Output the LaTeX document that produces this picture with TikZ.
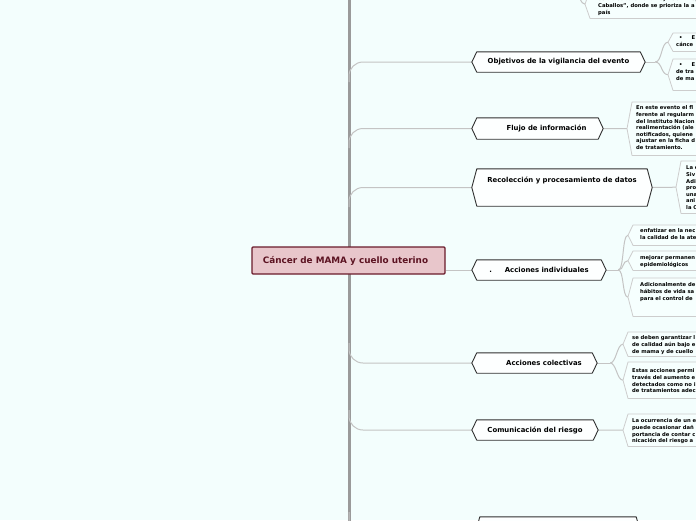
\documentclass[tikz,border=0pt]{standalone}
\usepackage{fontspec}
\setmainfont{DejaVu Sans}
\usetikzlibrary{calc}
\pgfdeclarelayer{canvas}
\pgfdeclarelayer{edges}
\pgfdeclarelayer{shapes}
\pgfsetlayers{canvas,edges,shapes,main}
\definecolor{bgc}{HTML}{F3FEFD}
\definecolor{trunkc}{HTML}{9A9A9A}
\definecolor{edgec}{HTML}{C4C4C4}
\definecolor{tagfill}{HTML}{FDFFFF}
\definecolor{tagline}{HTML}{303030}
\definecolor{kidfill}{HTML}{F6FFFE}
\definecolor{kidline}{HTML}{CDCDCD}
\definecolor{rootfill}{HTML}{E8C6CB}
\definecolor{rootline}{HTML}{6A1B2B}
\definecolor{roottext}{HTML}{5C1322}
\tikzset{
  tagnode/.style={rectangle, inner sep=0pt, font=\fontsize{6.9}{8}\selectfont\bfseries, text=black},
  tagshape/.style={fill=tagfill, draw=tagline, line width=0.9pt, line join=round},
  kidnode/.style={rectangle, anchor=north west, inner ysep=0pt, font=\fontsize{5.25}{6.6}\selectfont\bfseries, text=black},
  kidshape/.style={fill=kidfill, draw=kidline, line width=0.8pt, line join=round},
  trunkline/.style={draw=trunkc, line width=3pt},
  branch/.style={draw=edgec, line width=1pt},
  rootnode/.style={rectangle, draw=rootline, fill=rootfill, line width=1.2pt, rounded corners=1pt,
    minimum width=193pt, minimum height=27pt, inner sep=0pt,
    font=\fontsize{8.85}{11}\selectfont\bfseries, text=roottext}
}
\newcommand\kidtxt[3]{\parbox[c][#1][t]{170pt}{\vspace*{#2}\raggedright\strut #3}}
\newcommand\taghex[1]{%
  \begin{pgfonlayer}{shapes}
  \path[tagshape] (#1.west) -- ([xshift=5pt]#1.north west) -- ([xshift=-5pt]#1.north east) -- (#1.east)
     -- ([xshift=-5pt]#1.south east) -- ([xshift=5pt]#1.south west) -- cycle;
  \end{pgfonlayer}}
\newcommand\kidhex[1]{%
  \begin{pgfonlayer}{shapes}
  \path[kidshape] (#1.west) -- ([xshift=5pt]#1.north west) -- (#1.north east)
     -- (#1.south east) -- ([xshift=5pt]#1.south west) -- cycle;
  \end{pgfonlayer}}
\begin{document}
\begin{tikzpicture}[x=1pt,y=-1pt]
\useasboundingbox (0,0) rectangle (696,520);
\begin{pgfonlayer}{canvas}
\fill[bgc] (0,0) rectangle (696,520);
\end{pgfonlayer}

% root and topic nodes
\node[rootnode] (root) at (348.5,260.5) {\hspace*{-6pt}Cáncer de MAMA y cuello uterino};
\node[tagnode, minimum width=173pt, minimum height=20pt] (obj) at (558.5,62) {Objetivos de la vigilancia del evento};
\node[tagnode, minimum width=131pt, minimum height=21pt] (flujo) at (537.5,128.5) {\hspace*{18pt}Flujo de información};
\node[tagnode, minimum width=180pt, text height=13.5pt, text depth=23.5pt] (reco) at (562,187.5) {Recolección y procesamiento de datos};
\node[tagnode, minimum width=134pt, minimum height=20pt] (indiv) at (539,270) {.\hspace{13pt}Acciones individuales};
\node[tagnode, minimum width=125pt, minimum height=20pt] (colec) at (534.5,363) {\hspace*{19pt}Acciones colectivas};
\node[tagnode, minimum width=126pt, minimum height=20pt] (comun) at (535,430) {Comunicación del riesgo};
\node[tagnode, minimum width=166pt, minimum height=36pt] (bot) at (558,535) {};
\foreach \n in {obj,flujo,reco,indiv,colec,comun,bot} {\taghex{\n}}

% detail boxes
\node[kidnode, inner xsep=8pt] (o1) at (668,33) {\kidtxt{18pt}{2pt}{\hspace*{3pt}•\hspace{9pt}E\\cánce}};
\node[kidnode, inner xsep=8pt] (o2) at (668,59) {\kidtxt{31pt}{3pt}{\hspace*{3pt}•\hspace{9pt}E\\de tra\\de ma}};
\node[kidnode, inner xsep=9pt] (f1) at (627,102) {\kidtxt{53pt}{3pt}{En este evento el fl\\ferente al regularm\\del Instituto Nacion\\realimentación (ale\\notificados, quiene\\ajustar en la ficha d\\de tratamiento.}};
\node[kidnode, inner xsep=10pt] (r1) at (676,161) {\kidtxt{52pt}{4pt}{La c\\Siv\\Adi\\pro\\una\\ani\\la C}};
\node[kidnode, inner xsep=12pt] (i1) at (628,225) {\kidtxt{20pt}{3pt}{enfatizar en la nec\\la calidad de la ate}};
\node[kidnode, inner xsep=12pt] (i2) at (628,251) {\kidtxt{19pt}{4pt}{mejorar permanen\\epidemiológicos}};
\node[kidnode, inner xsep=12pt] (i3) at (628,278) {\kidtxt{38pt}{4pt}{Adicionalmente de\\hábitos de vida sa\\para el control de}};
\node[kidnode, inner xsep=9pt] (c1) at (623,332) {\kidtxt{24pt}{3pt}{se deben garantizar l\\de calidad aún bajo e\\de mama y de cuello}};
\node[kidnode, inner xsep=9pt] (c2) at (623,362) {\kidtxt{36pt}{6pt}{Estas acciones permi\\través del aumento e\\detectados como no i\\de tratamientos adec}};
\node[kidnode, inner xsep=9pt] (m1) at (623,414) {\kidtxt{32pt}{4pt}{La ocurrencia de un e\\puede ocasionar dañ\\portancia de contar c\\nicación del riesgo a}};
\node[kidnode, inner xsep=13pt] (tb) at (585,-10) {\kidtxt{28pt}{6pt}{establecida en una Ley 1384 "Ley S\\Caballos", donde se prioriza la a\\país}};
\foreach \n in {o1,o2,f1,r1,i1,i2,i3,c1,c2,m1,tb} {\kidhex{\n}}

% connectors
\coordinate (ttop) at (349,-20);
\coordinate (tbottom) at (349,545);
\coordinate (tobj) at (349,82);
\coordinate (tflu) at (349,148);
\coordinate (treco) at (349,207);
\coordinate (tcol) at (349,343);
\coordinate (tcom) at (349,410);
\coordinate (tbot) at (349,512);
\coordinate (tbp) at (568,-30);
\coordinate (objb) at ([xshift=10pt]obj.east);
\coordinate (indb) at ([xshift=12pt]indiv.east);
\coordinate (colb) at ([xshift=13pt]colec.east);
\begin{pgfonlayer}{edges}
\draw[trunkline] (ttop) -- (tbottom);
\draw[branch, rounded corners=14pt] (tobj) |- (obj.west);
\draw[branch, rounded corners=14pt] (tflu) |- (flujo.west);
\draw[branch, rounded corners=14pt] (treco) |- (reco.west);
\draw[branch, rounded corners=14pt] (tcol) |- (colec.west);
\draw[branch, rounded corners=14pt] (tcom) |- (comun.west);
\draw[branch, rounded corners=14pt] (tbot) |- (bot.west);
\draw[branch] (root.east |- indiv.west) -- (indiv.west);
\draw[branch] (obj.east) -- (objb);
\draw[branch] (objb) .. controls +(7,0) and +(-7,0) .. (o1.west);
\draw[branch] (objb) .. controls +(7,0) and +(-7,0) .. (o2.west);
\draw[branch] (flujo.east) -- (f1.west);
\draw[branch] (reco.east) -- (r1.west);
\draw[branch] (indiv.east) -- (indb);
\draw[branch] (indb) .. controls +(6,0) and +(-6,0) .. (i1.west);
\draw[branch] (indb) .. controls +(6,0) and +(-6,0) .. (i2.west);
\draw[branch] (indb) .. controls +(6,0) and +(-6,0) .. (i3.west);
\draw[branch] (colec.east) -- (colb);
\draw[branch] (colb) .. controls +(6,0) and +(-6,0) .. (c1.west);
\draw[branch] (colb) .. controls +(6,0) and +(-6,0) .. (c2.west);
\draw[branch] (comun.east) -- (m1.west);
\draw[branch] (tbp) .. controls +(8,0) and +(-8,0) .. (tb.west);
\end{pgfonlayer}
\end{tikzpicture}
\end{document}
